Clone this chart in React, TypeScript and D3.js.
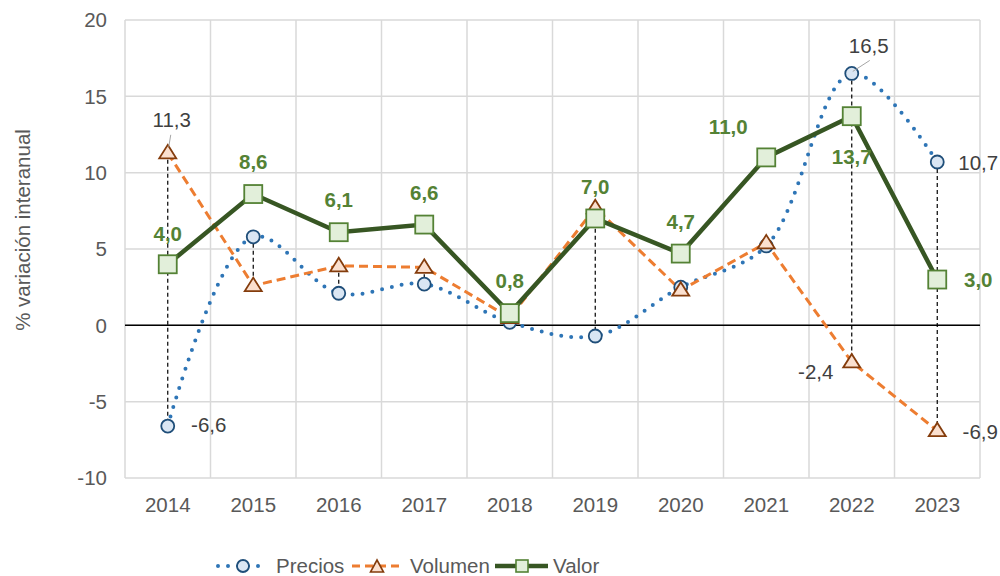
import React from "react";
import * as d3 from "d3";

const years = ["2014", "2015", "2016", "2017", "2018", "2019", "2020", "2021", "2022", "2023"];
const precios = [-6.6, 5.8, 2.1, 2.7, 0.2, -0.7, 2.5, 5.2, 16.5, 10.7];
const volumen = [11.3, 2.6, 3.9, 3.8, 0.5, 7.7, 2.3, 5.4, -2.4, -6.9];
const valor = [4.0, 8.6, 6.1, 6.6, 0.8, 7.0, 4.7, 11.0, 13.7, 3.0];
const yTicks = [-10, -5, 0, 5, 10, 15, 20];

const fmt = (v: number) => v.toFixed(1).replace(".", ",");

export default function App() {
  const W = 1000, H = 576;
  const left = 125, right = 980, top = 20, bottom = 478;
  const x = d3.scaleBand<string>().domain(years).range([left, right]);
  const cx = (i: number) => (x(years[i]) as number) + x.bandwidth() / 2;
  const y = d3.scaleLinear().domain([-10, 20]).range([bottom, top]);

  const smooth = d3.line<number>().x((_, i) => cx(i)).y((d) => y(d)).curve(d3.curveCatmullRom.alpha(0.5));
  const straight = d3.line<number>().x((_, i) => cx(i)).y((d) => y(d));

  const tick = "#595959";
  const dark = "#404040";
  const green = "#548235";
  const font = "'Liberation Sans', Arial, sans-serif";
  const fs = 20.5;

  const tri = (px: number, py: number, hw = 8.5, up = 8, down = 5.5) =>
    `M${px},${py - up} L${px + hw},${py + down} L${px - hw},${py + down} Z`;

  const valorLabelOff: [number, number][] = [
    [0, -30], [0, -32], [0, -32], [0, -32], [0, -32], [0, -32], [0, -32], [-38, -31], [0, 41], [41, 0],
  ];

  return (
    <svg width={W} height={H} style={{ display: "block", position: "absolute", left: 0, top: 0 }} fontFamily={font}>
      <rect width={W} height={H} fill="#fff" />
      {yTicks.map((t) => (
        <line key={"gy" + t} x1={left} x2={right} y1={y(t)} y2={y(t)} stroke="#d9d9d9" strokeWidth={1.5} />
      ))}
      {years.map((yr) => (
        <line key={"gx" + yr} x1={x(yr)} x2={x(yr)} y1={top} y2={bottom} stroke="#d9d9d9" strokeWidth={1.5} />
      ))}
      <line x1={right} x2={right} y1={top} y2={bottom} stroke="#d9d9d9" strokeWidth={1.5} />
      <line x1={left} x2={right} y1={y(0)} y2={y(0)} stroke="#000" strokeWidth={1.5} />
      {yTicks.map((t) => (
        <text key={"ty" + t} x={107} y={y(t)} dy="0.35em" textAnchor="end" fontSize={fs} fill={tick}>
          {t}
        </text>
      ))}
      {years.map((yr, i) => (
        <text key={"tx" + yr} x={cx(i)} y={505} dy="0.35em" textAnchor="middle" fontSize={fs} fill={tick}>
          {yr}
        </text>
      ))}
      <text transform={`translate(23,230) rotate(-90)`} textAnchor="middle" dy="0.35em" fontSize={fs} fill={tick}>
        % variación interanual
      </text>
      {years.map((yr, i) => (
        <line key={"hl" + yr} x1={cx(i)} x2={cx(i)} y1={y(Math.max(precios[i], volumen[i]))} y2={y(Math.min(precios[i], volumen[i]))}
          stroke="#000" strokeWidth={1.2} strokeDasharray="4,3" />
      ))}
      <path d={smooth(precios) as string} fill="none" stroke="#2e75b6" strokeWidth={4} strokeDasharray="0,10" strokeLinecap="round" />
      <path d={straight(volumen) as string} fill="none" stroke="#ed7d31" strokeWidth={3} strokeDasharray="9,5" />
      {precios.map((v, i) => (
        <circle key={"pc" + i} cx={cx(i)} cy={y(v)} r={6.5} fill="#dae6f3" stroke="#1f4e79" strokeWidth={1.8} />
      ))}
      {volumen.map((v, i) => (
        <path key={"vt" + i} d={tri(cx(i), y(v))} fill="#fbe0cf" stroke="#843c0c" strokeWidth={1.8} />
      ))}
      <path d={straight(valor) as string} fill="none" stroke="#375623" strokeWidth={4.5} />
      {valor.map((v, i) => (
        <rect key={"vs" + i} x={cx(i) - 9} y={y(v) - 9} width={18} height={18} fill="#e2efda" stroke={green} strokeWidth={1.8} />
      ))}
      {valor.map((v, i) => (
        <text key={"vl" + i} x={cx(i) + valorLabelOff[i][0]} y={y(v) + valorLabelOff[i][1]} dy="0.35em" textAnchor="middle"
          fontSize={fs} fontWeight="bold" fill={green}>
          {fmt(v)}
        </text>
      ))}
      <text x={cx(0) + 41} y={y(precios[0]) - 1} dy="0.35em" textAnchor="middle" fontSize={fs} fill={dark}>{fmt(precios[0])}</text>
      <line x1={cx(8) + 1} y1={y(precios[8]) - 2} x2={cx(8) + 18} y2={y(precios[8]) - 13} stroke="#a6a6a6" strokeWidth={1} />
      <text x={cx(8) + 17} y={y(precios[8]) - 28} dy="0.35em" textAnchor="middle" fontSize={fs} fill={dark}>{fmt(precios[8])}</text>
      <text x={cx(9) + 41} y={y(precios[9]) + 1} dy="0.35em" textAnchor="middle" fontSize={fs} fill={dark}>{fmt(precios[9])}</text>
      <line x1={cx(0) + 1} y1={y(volumen[0]) - 6} x2={cx(0) + 3} y2={y(volumen[0]) - 18} stroke="#a6a6a6" strokeWidth={1} />
      <text x={cx(0) + 4} y={y(volumen[0]) - 33} dy="0.35em" textAnchor="middle" fontSize={fs} fill={dark}>{fmt(volumen[0])}</text>
      <text x={cx(8) - 36} y={y(volumen[8]) + 10} dy="0.35em" textAnchor="middle" fontSize={fs} fill={dark}>{fmt(volumen[8])}</text>
      <text x={cx(9) + 43} y={y(volumen[9]) + 1} dy="0.35em" textAnchor="middle" fontSize={fs} fill={dark}>{fmt(volumen[9])}</text>
      <g>
        <line x1={218} x2={268} y1={566} y2={566} stroke="#2e75b6" strokeWidth={4} strokeDasharray="0,10" strokeLinecap="round" />
        <circle cx={243} cy={566} r={6} fill="#dae6f3" stroke="#1f4e79" strokeWidth={1.8} />
        <text x={276} y={566} dy="0.35em" fontSize={fs} fill={tick}>Precios</text>
        <line x1={352} x2={403} y1={566} y2={566} stroke="#ed7d31" strokeWidth={3} strokeDasharray="8,5" />
        <path d={tri(377, 567, 6.5, 7, 5)} fill="#fbe0cf" stroke="#843c0c" strokeWidth={1.6} />
        <text x={410} y={566} dy="0.35em" fontSize={fs} fill={tick}>Volumen</text>
        <line x1={495} x2={548} y1={566} y2={566} stroke="#375623" strokeWidth={4.5} />
        <rect x={516} y={560} width={12} height={12} fill="#e2efda" stroke={green} strokeWidth={1.6} />
        <text x={553} y={566} dy="0.35em" fontSize={fs} fill={tick}>Valor</text>
      </g>
    </svg>
  );
}
